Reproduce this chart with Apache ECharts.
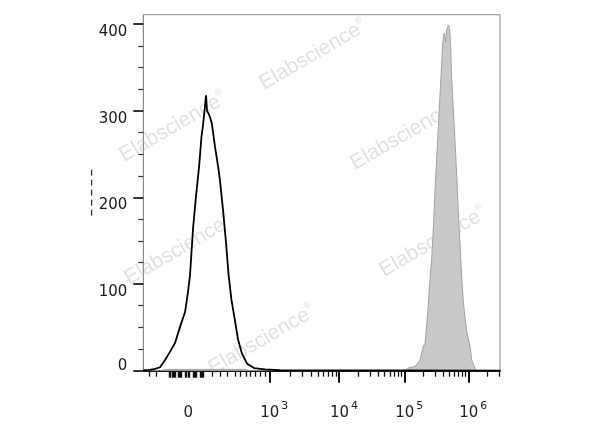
<!DOCTYPE html>
<html><head><meta charset="utf-8">
<script src="https://cdn.jsdelivr.net/npm/echarts@6/dist/echarts.min.js"></script>
<style>html,body{margin:0;padding:0;background:#fff}#c{width:600px;height:427px}</style>
</head><body><div id="c"></div>
<script>
// Histogram data on a 0-1024 display-channel scale (biexponential display)
const blackChannel = [0,19,34,48,62,77,91,105,120,128,134,143,151,160,167,171,177,180,183,187,192,197,206,215,220,229,237,245,253,263,272,283,298,318,349,392,1024];
const blackCount   = [0.5,1,2,4,12,22,32,50,68,90,110,165,200,235,270,282,305,318,300,297,292,285,258,235,220,185,150,110,82,58,36,20,8,3,1.5,0.5,0];
const grayChannel  = [0,48,62,292,306,751,761,780,794,804,809,814,818,823,828,833,837,842,847,852,857,860,864,868,871,876,879,882,885,890,895,900,904,909,914,919,928,938,943,947,952,958,1024];
const grayCount    = [0,0,1.5,1.5,0,0,3,5,12,28,32,55,75,105,130,166,205,243,281,320,358,380,390,380,394,399,396,380,339,301,263,224,186,147,108,78,46,28,12,8,3,0,0];

// Axis ticks / labels
const xLabelChannels = [129, 361.7, 561.8, 749.3, 933];
const xLabelTexts    = ['0', '10|3', '10|4', '10|5', '10|6'];
const decadeChannels = [361.7, 561.8, 749.3, 933];
const decadeWidths   = [200.1, 187.5, 183.7, 184];
const linearMinorTicks = [17,37,199,220,240,263,278,295,306,321,335,350];
const linearClusterTicks = [77,84,91,103,108,123,130,146,151,166,171];
const yMajorTicks = [0,100,200,300,400];
const yMinorStep = 25;
const yMax = 411;

const xMinorTicks = linearMinorTicks.slice();
decadeChannels.forEach((d, i) => {
  for (let k = 2; k <= 9; k++) {
    const v = d + decadeWidths[i] * Math.log10(k);
    if (v < 1024) xMinorTicks.push(v);
  }
});
const yMinorTicks = [];
for (let v = 0; v < 400; v += yMinorStep) if (v % 100 !== 0) yMinorTicks.push(v);

const labelMap = {};
xLabelChannels.forEach((c, i) => labelMap[c] = xLabelTexts[i]);

const wmPositions = [[313,55],[173,127],[404,135],[178,250],[433,242],[262,340]];

const chart = echarts.init(document.getElementById('c'), null, {renderer: 'canvas'});
const fontFam = 'DejaVu Sans';
const minorAxis = (vals, len, w) => ({
  type: 'value', min: 0, max: 1024, position: 'bottom', offset: 0,
  axisLine: {show: false, onZero: false},
  axisTick: {show: true, customValues: vals, length: len, inside: false, lineStyle: {color: '#111', width: w}},
  axisLabel: {show: false}, splitLine: {show: false}
});
chart.setOption({
  animation: false,
  backgroundColor: '#fff',
  grid: {left: 143.3, top: 14.7, right: 100, bottom: 56.3, show: true, borderColor: '#8c8c8c', borderWidth: 1, backgroundColor: 'transparent'},
  graphic: wmPositions.map(p => ({
    type: 'text', x: p[0], y: p[1], rotation: 30 * Math.PI / 180, z: 0, silent: true,
    style: {
      text: '{a|Elabscience}{r|®}', align: 'center', verticalAlign: 'middle',
      rich: {
        a: {fontFamily: 'Liberation Sans', fontSize: 21, fill: '#e1e1e1'},
        r: {fontFamily: 'Liberation Sans', fontSize: 9, fill: '#e1e1e1', verticalAlign: 'top', lineHeight: 24}
      }
    }
  })),
  xAxis: [{
    type: 'value', min: 0, max: 1024, position: 'bottom', offset: 0,
    axisLine: {show: true, onZero: false, lineStyle: {color: '#111', width: 2}},
    axisTick: {show: true, customValues: decadeChannels, length: 12, inside: false, lineStyle: {color: '#111', width: 2}},
    axisLabel: {
      show: true, customValues: xLabelChannels, margin: 30, color: '#222',
      formatter: v => {
        const key = Object.keys(labelMap).find(k => Math.abs(+k - v) < 0.5);
        const t = labelMap[key];
        if (!t) return '';
        if (t.indexOf('|') < 0) return '{q| }{b|' + t + '}';
        const parts = t.split('|');
        return '{p| }{b|' + parts[0] + '}{s|' + parts[1] + '}';
      },
      rich: {
        p: {width: 10, lineHeight: 20, fontSize: 15},
        q: {width: 0.1, lineHeight: 20, fontSize: 15},
        b: {fontFamily: fontFam, fontSize: 15, lineHeight: 15, verticalAlign: 'bottom', color: '#222'},
        s: {fontFamily: fontFam, fontSize: 11, lineHeight: 11, verticalAlign: 'top', color: '#222', padding: [0,0,0,2]}
      }
    },
    splitLine: {show: false}
  }, minorAxis(xMinorTicks, 6, 1.3), minorAxis(linearClusterTicks, 7, 2.4)],
  yAxis: [{
    type: 'value', min: 0, max: yMax, position: 'left', offset: 0,
    name: '– – – – –', nameLocation: 'middle', nameGap: 46, nameRotate: 90, nameMoveOverlap: false,
    nameTextStyle: {fontFamily: 'Liberation Sans', fontSize: 12, fontWeight: 'bold', color: '#333'},
    axisLine: {show: true, lineStyle: {color: '#8c8c8c', width: 1}},
    axisTick: {show: true, customValues: yMajorTicks, length: 10, lineStyle: {color: '#333', width: 2}},
    axisLabel: {show: true, customValues: [100,200,300,400], margin: 16, fontFamily: fontFam, fontSize: 15, color: '#1a1a1a', verticalAlign: 'top', lineHeight: 12, padding: [2,0,0,0]},
    splitLine: {show: false}
  }, {
    type: 'value', min: 0, max: yMax, position: 'left', offset: 0,
    axisLine: {show: false},
    axisTick: {show: true, customValues: yMinorTicks, length: 5, lineStyle: {color: '#333', width: 1.2}},
    axisLabel: {show: true, customValues: [0], margin: 16, fontFamily: fontFam, fontSize: 15, color: '#1a1a1a', verticalAlign: 'bottom', lineHeight: 10},
    splitLine: {show: false}
  }],
  series: [{
    type: 'line', name: 'stained', xAxisIndex: 0, yAxisIndex: 0, symbol: 'none', z: 2,
    data: grayChannel.map((c, i) => [c, grayCount[i]]),
    lineStyle: {color: '#a2a2a2', width: 1},
    areaStyle: {color: '#c9c9c9', opacity: 1}
  }, {
    type: 'line', name: 'control', xAxisIndex: 0, yAxisIndex: 0, symbol: 'none', z: 3,
    data: blackChannel.map((c, i) => [c, blackCount[i]]),
    lineStyle: {color: '#000', width: 1.8}
  }]
});
</script>
</body></html>
